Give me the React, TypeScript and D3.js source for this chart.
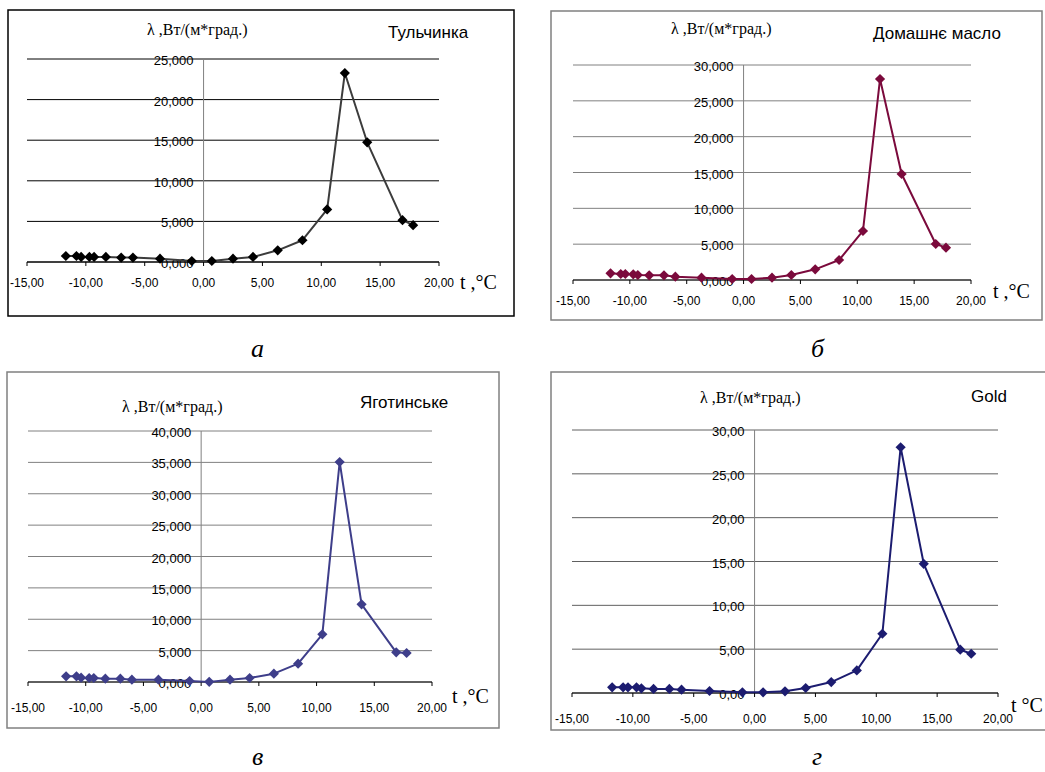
import * as d3 from "d3";
import React from "react";

// temperature, °C (same for every sample)
const temps = [-11.7, -10.8, -10.4, -9.7, -9.3, -8.3, -7.0, -6.0, -3.7, -1.0, 0.7, 2.5, 4.2, 6.3, 8.4, 10.5, 12.0, 13.9, 16.9, 17.8];

// λ, Вт/(м*град.)
const tulchynka = [0.74, 0.74, 0.62, 0.62, 0.62, 0.62, 0.54, 0.54, 0.41, 0.12, 0.12, 0.41, 0.62, 1.44, 2.68, 6.47, 23.27, 14.74, 5.15, 4.53];
const domashnie = [0.93, 0.84, 0.84, 0.79, 0.7, 0.65, 0.65, 0.47, 0.33, 0.14, 0.14, 0.33, 0.7, 1.49, 2.79, 6.84, 28.05, 14.79, 5.02, 4.51];
const yahotynske = [0.9, 0.9, 0.69, 0.64, 0.64, 0.53, 0.53, 0.37, 0.37, 0.16, 0.02, 0.37, 0.64, 1.33, 2.92, 7.6, 35.06, 12.38, 4.73, 4.62];
const gold = [0.65, 0.65, 0.65, 0.65, 0.53, 0.46, 0.46, 0.38, 0.23, 0.08, 0.08, 0.19, 0.57, 1.25, 2.58, 6.76, 28.03, 14.74, 4.94, 4.48];

const xTicks = [-15, -10, -5, 0, 5, 10, 15, 20];
const yMaxes = [25, 30, 40, 30];
const yDecimals = [3, 3, 3, 2];
const names = ["Тульчинка", "Домашнє масло", "Яготинське", "Gold"];
const captions = ["а", "б", "в", "г"];
const unitLabels = ["t ,°C", "t ,°C", "t ,°C", "t °C"];
const yTitle = "λ ,Вт/(м*град.)";

interface Layout {
  box: [number, number, number, number];
  x0: number;
  x1: number;
  y0: number;
  y1: number;
  titleX: number;
  titleY: number;
  nameX: number;
  nameY: number;
  unitX: number;
  unitY: number;
  labelDy: number;
  capX: number;
  capY: number;
  frame: string;
  grid: string;
  line: string;
  marker: string;
}

const layouts: Layout[] = [
  { box: [8, 10, 514, 316], x0: 27, x1: 439, y0: 262, y1: 59, titleX: 147, titleY: 35, nameX: 388, nameY: 38, unitX: 460, unitY: 289, labelDy: 25, capX: 251, capY: 357, frame: "#000", grid: "#000", line: "#3c3c3c", marker: "#000" },
  { box: [551, 11, 1042, 320], x0: 573, x1: 971, y0: 280, y1: 65, titleX: 671, titleY: 34, nameX: 873, nameY: 39, unitX: 993, unitY: 298, labelDy: 25, capX: 811, capY: 357, frame: "#808080", grid: "#808080", line: "#7b0a3c", marker: "#7b0a3c" },
  { box: [7, 372, 499, 728], x0: 28, x1: 432, y0: 682, y1: 431, titleX: 122, titleY: 412, nameX: 360, nameY: 408, unitX: 452, unitY: 703, labelDy: 30, capX: 252, capY: 765, frame: "#808080", grid: "#808080", line: "#3e3e8a", marker: "#3e3e8a" },
  { box: [551, 372, 1046, 730], x0: 572, x1: 998, y0: 693, y1: 430, titleX: 700, titleY: 403, nameX: 971, nameY: 402, unitX: 1011, unitY: 712, labelDy: 30, capX: 812, capY: 765, frame: "#808080", grid: "#606060", line: "#1c1c70", marker: "#1c1c70" },
];

const series = [tulchynka, domashnie, yahotynske, gold];

const fmt = (v: number, d: number) => v.toFixed(d).replace(".", ",");

const Panel: React.FC<{ i: number }> = ({ i }) => {
  const L = layouts[i];
  const values = series[i];
  const x = d3.scaleLinear().domain([-15, 20]).range([L.x0, L.x1]);
  const y = d3.scaleLinear().domain([0, yMaxes[i]]).range([L.y0, L.y1]);
  const yTicks = d3.range(0, yMaxes[i] + 0.001, 5);
  const pts = temps.map((t, k) => [x(t), y(values[k])] as [number, number]);
  const line = d3.line()(pts) ?? "";
  // rotated square, like Excel's diamond marker
  const diamond = d3.symbol(d3.symbolSquare, 52)() ?? "";
  const [bx0, by0, bx1, by1] = L.box;

  return (
    <g>
      <rect x={bx0} y={by0} width={bx1 - bx0} height={by1 - by0} fill="#fff" stroke={L.frame} strokeWidth={1.5} />
      {yTicks.map((v) => (
        <line key={"g" + v} x1={L.x0} x2={L.x1} y1={y(v)} y2={y(v)} stroke={L.grid} strokeWidth={1} />
      ))}
      <line x1={x(0)} x2={x(0)} y1={y(yMaxes[i])} y2={y(0)} stroke="#808080" strokeWidth={1} />
      <line x1={L.x0} x2={L.x1} y1={y(0)} y2={y(0)} stroke="#000" strokeWidth={1} />
      {xTicks.map((t) => (
        <g key={"x" + t}>
          <line x1={x(t)} x2={x(t)} y1={y(0)} y2={y(0) + 4} stroke="#000" strokeWidth={1} />
          <text x={x(t)} y={y(0) + L.labelDy} textAnchor="middle" fontFamily="'Liberation Sans', Arial, sans-serif" fontSize={12} fill="#000">
            {fmt(t, 2)}
          </text>
        </g>
      ))}
      {yTicks.map((v) => (
        <text key={"y" + v} x={x(0) - 10} y={y(v) + 6} textAnchor="end" fontFamily="'Liberation Sans', Arial, sans-serif" fontSize={13} fill="#000">
          {fmt(v, yDecimals[i])}
        </text>
      ))}
      <path d={line} fill="none" stroke={L.line} strokeWidth={2} strokeLinejoin="round" />
      {pts.map(([px, py], k) => (
        <path key={"m" + k} d={diamond} transform={`translate(${px},${py}) rotate(45)`} fill={L.marker} />
      ))}
      <text x={L.titleX} y={L.titleY} fontFamily="'Liberation Serif', 'Times New Roman', serif" fontSize={16} fill="#000">
        {yTitle}
      </text>
      <text x={L.nameX} y={L.nameY} fontFamily="'Liberation Sans', Arial, sans-serif" fontSize={17} fill="#000">
        {names[i]}
      </text>
      <text x={L.unitX} y={L.unitY} fontFamily="'Liberation Serif', 'Times New Roman', serif" fontSize={20} fill="#000">
        {unitLabels[i]}
      </text>
      <text x={L.capX} y={L.capY} fontFamily="'Liberation Serif', 'Times New Roman', serif" fontStyle="italic" fontSize={26} fill="#000">
        {captions[i]}
      </text>
    </g>
  );
};

export default function App() {
  return (
    <svg width={1045} height={772} style={{ position: "absolute", left: 0, top: 0, background: "#fff" }}>
      {layouts.map((_, i) => (
        <Panel key={i} i={i} />
      ))}
    </svg>
  );
}
